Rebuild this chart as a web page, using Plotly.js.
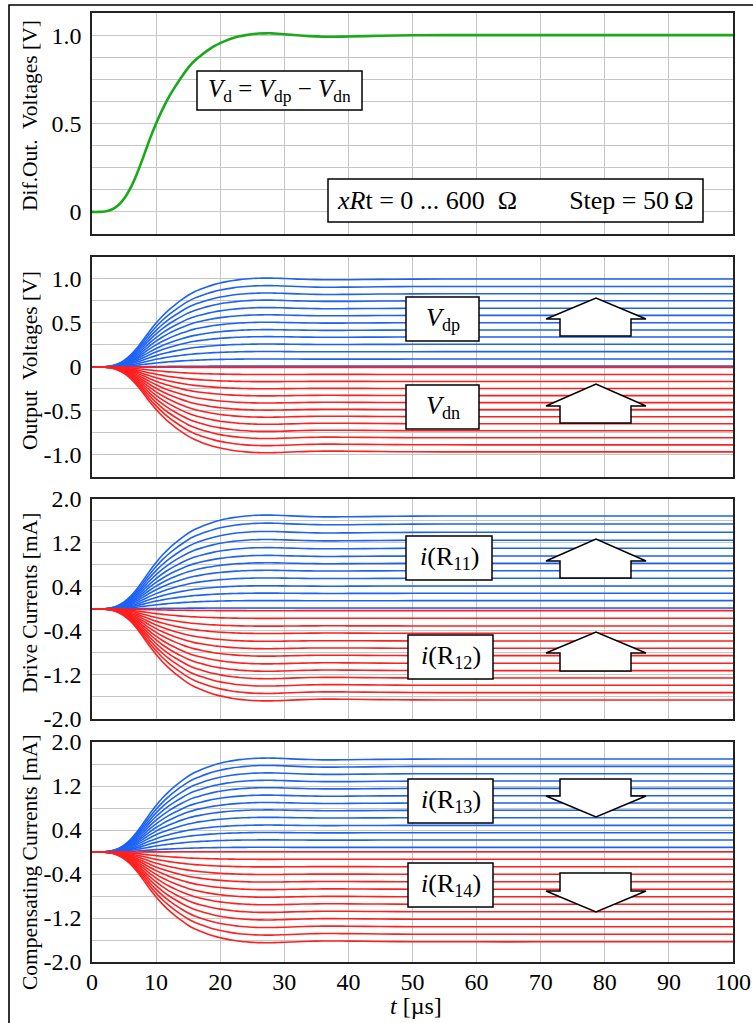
<!DOCTYPE html>
<html>
<head>
<meta charset="utf-8">
<script src="https://cdn.plot.ly/plotly-3.0.1.min.js"></script>
<style>html,body{margin:0;padding:0;background:#fff;}#chart{width:753px;height:1023px;}</style>
</head>
<body>
<div id="chart"></div>
<script>
// ---- data ----
const timeUs = [0,1,2,3,4,5,6,7,8,9,10,11,12,13,14,15,16,17,18,19,20,21,22,23,24,25,26,27,28,29,30,32,34,36,38,40,45,50,60,70,80,90,100];
// differential output voltage Vd [V] (green curve, also the normalised step shape of all the other curves)
const vd = [0,0,0.002,0.012,0.035,0.075,0.135,0.215,0.31,0.41,0.5,0.58,0.65,0.71,0.765,0.815,0.855,0.885,0.912,0.936,0.955,0.97,0.983,0.993,1.0,1.006,1.009,1.01,1.01,1.008,1.005,0.999,0.994,0.991,0.991,0.992,0.996,0.999,1.0,1.0,1.0,1.0,1.0];
// settled values of each swept curve (xRt = 0 ... 600 Ω, step 50 Ω)
const vdpFinal = [1.0,0.915,0.832,0.752,0.668,0.587,0.503,0.42,0.341,0.258,0.174,0.09,0.01];
const vdnFinal = [-0.005,-0.085,-0.165,-0.245,-0.325,-0.405,-0.485,-0.565,-0.645,-0.725,-0.805,-0.885,-0.965];
const iR11Final = [1.69,1.545,1.395,1.25,1.104,0.964,0.831,0.696,0.558,0.418,0.285,0.151,0.018];
const iR12Final = [-0.031,-0.169,-0.309,-0.442,-0.582,-0.715,-0.849,-0.988,-1.121,-1.255,-1.388,-1.521,-1.655];
const iR13Final = [1.691,1.558,1.424,1.291,1.158,1.024,0.891,0.758,0.624,0.485,0.351,0.218,0.085];
const iR14Final = [0.005,-0.132,-0.268,-0.405,-0.541,-0.677,-0.814,-0.95,-1.087,-1.223,-1.36,-1.496,-1.633];
// tick labels
const yTicks1 = [0,0.5,1.0], yText1 = ['0','0.5','1.0'];
const yTicks2 = [-1,-0.5,0,0.5,1], yText2 = ['-1.0','-0.5','0','0.5','1.0'];
const yTicksI = [-2,-1.2,-0.4,0.4,1.2,2], yTextI = ['-2.0','-1.2','-0.4','0.4','1.2','2.0'];
const xTicks = [0,10,20,30,40,50,60,70,80,90,100];

// ---- styling ----
const FONT = 'Liberation Serif';
const BLUE = '#1d62f6', RED = '#ff1f1f', GREEN = '#1aa91a';
const GRID = '#c6c6c6';
const traces = [];
traces.push({x: timeUs, y: vd, xaxis:'x', yaxis:'y', mode:'lines', line:{color:GREEN, width:2.6, shape:'spline', smoothing:0.5}, hoverinfo:'skip'});
function fan(finals, color, xa, ya){
  finals.forEach(f => traces.push({x: timeUs, y: vd.map(r => r*f), xaxis:xa, yaxis:ya, mode:'lines',
    line:{color:color, width:1.6, shape:'spline', smoothing:0.5}, hoverinfo:'skip'}));
}
fan(vdpFinal, BLUE, 'x2', 'y2'); fan(vdnFinal, RED, 'x2', 'y2');
fan(iR11Final, BLUE, 'x3', 'y3'); fan(iR12Final, RED, 'x3', 'y3');
fan(iR13Final, BLUE, 'x4', 'y4'); fan(iR14Final, RED, 'x4', 'y4');

function xAx(anchor, labels){
  return {anchor:anchor, domain:[0,1], range:[0,100], tickmode:'array', tickvals:xTicks,
    showgrid:true, gridcolor:GRID, gridwidth:1, zeroline:false, showline:true, mirror:true,
    linecolor:'#222', linewidth:1.7, ticks:'', showticklabels:labels, ticklabelstandoff:-3,
    tickfont:{family:FONT, size:24, color:'#000'}};
}
function yAx(anchor, dom, rng, tv, tt, minorStep){
  return {anchor:anchor, domain:dom, range:rng, tickmode:'array', tickvals:tv, ticktext:tt,
    minor:{tickmode:'linear', tick0:0, dtick:minorStep, showgrid:true, gridcolor:GRID, gridwidth:1, ticks:''},
    showgrid:true, gridcolor:GRID, gridwidth:1, zeroline:false, showline:true, mirror:true,
    linecolor:'#222', linewidth:1.7, ticks:'', ticklabelstandoff:4,
    tickfont:{family:FONT, size:24, color:'#000'}};
}

// pixel -> paper helpers (plot area: x 92..733, y 13..962)
const PX = px => (px-92)/641;
const PY = py => (962-py)/949;

const shapes = [];
// outer frame
shapes.push({type:'rect', xref:'paper', yref:'paper', x0:PX(9), x1:PX(800), y0:PY(1100), y1:PY(5), line:{color:'#000', width:1.6}, fillcolor:'rgba(0,0,0,0)', layer:'below'});
function box(x0,x1,y0,y1){
  shapes.push({type:'rect', xref:'paper', yref:'paper', x0:PX(x0), x1:PX(x1), y0:PY(y1), y1:PY(y0), line:{color:'#000', width:1.5}, fillcolor:'#fff'});
}
function arrow(apexY, headY, endY){
  const p = [[560,endY],[560,headY],[546,headY],[596,apexY],[646,headY],[631,headY],[631,endY]];
  const d = 'M' + p.map(q => PX(q[0]).toFixed(5)+','+PY(q[1]).toFixed(5)).join(' L') + ' Z';
  shapes.push({type:'path', xref:'paper', yref:'paper', path:d, line:{color:'#000', width:1.5}, fillcolor:'#fff'});
}
box(197,362,71,110);
box(328,703,179,222);
box(406,479,297,341); box(406,479,385,429);
arrow(298,319,336); arrow(384,406,423);
box(406,492,536,580); box(408,493,635,679);
arrow(539,561,578); arrow(632,653,671);
box(408,493,779,823); box(408,493,863,907);
arrow(817,796,779); arrow(912,891,873);

const annotations = [];
function label(cx, cy, txt, size){
  annotations.push({xref:'paper', yref:'paper', x:PX(cx), y:PY(cy), xanchor:'center', yanchor:'middle', showarrow:false,
    text:txt, font:{family:FONT, size:size, color:'#000'}});
}
label(279.5, 90.5, '<i>V</i><sub>d</sub> = <i>V</i><sub>dp</sub> \u2212 <i>V</i><sub>dn</sub>', 25);
label(515.5, 200.5, '<i>xR</i>t = 0 ... 600\u00a0\u00a0\u03a9\u00a0\u00a0\u00a0\u00a0\u00a0\u00a0\u00a0\u00a0Step = 50\u2009\u03a9', 26);
label(442.5, 319, '<i>V</i><sub>dp</sub>', 26);
label(442.5, 407, '<i>V</i><sub>dn</sub>', 26);
label(449, 558, '<i>i</i>(R<sub>11</sub>)', 26);
label(450.5, 657, '<i>i</i>(R<sub>12</sub>)', 26);
label(450.5, 801, '<i>i</i>(R<sub>13</sub>)', 26);
label(450.5, 885, '<i>i</i>(R<sub>14</sub>)', 26);
// axis titles
function ytitle(cy, txt){
  annotations.push({xref:'paper', yref:'paper', x:PX(30), y:PY(cy), xanchor:'center', yanchor:'middle', textangle:-90,
    showarrow:false, text:txt, font:{family:FONT, size:21.5, color:'#000'}});
}
ytitle(116, 'Dif.Out.\u00a0 Voltages [V]');
ytitle(361, 'Output\u00a0 Voltages [V]');
ytitle(603, 'Drive Currents [mA]');
ytitle(862, 'Compensating Currents [mA]');
annotations.push({xref:'paper', yref:'paper', x:PX(416), y:PY(1006), xanchor:'center', yanchor:'middle', showarrow:false,
  text:'<i>t</i> [\u00b5s]', font:{family:FONT, size:24, color:'#000'}});

const layout = {
  width:753, height:1023, margin:{l:92, r:20, t:13, b:61},
  paper_bgcolor:'#fff', plot_bgcolor:'#fff', showlegend:false,
  font:{family:FONT, color:'#000'},
  xaxis: xAx('y', false), xaxis2: xAx('y2', false), xaxis3: xAx('y3', false), xaxis4: xAx('y4', true),
  yaxis: yAx('x', [0.7671,1], [-0.125,1.125], yTicks1, yText1, 0.125),
  yaxis2: yAx('x2', [0.5111,0.7429], [-1.25,1.25], yTicks2, yText2, 0.25),
  yaxis3: yAx('x3', [0.2561,0.4879], [-2,2], yTicksI, yTextI, 0.4),
  yaxis4: yAx('x4', [0,0.2318], [-2,2], yTicksI, yTextI, 0.4),
  shapes: shapes, annotations: annotations
};
Plotly.newPlot('chart', traces, layout, {staticPlot:true, displayModeBar:false});
</script>
</body>
</html>
